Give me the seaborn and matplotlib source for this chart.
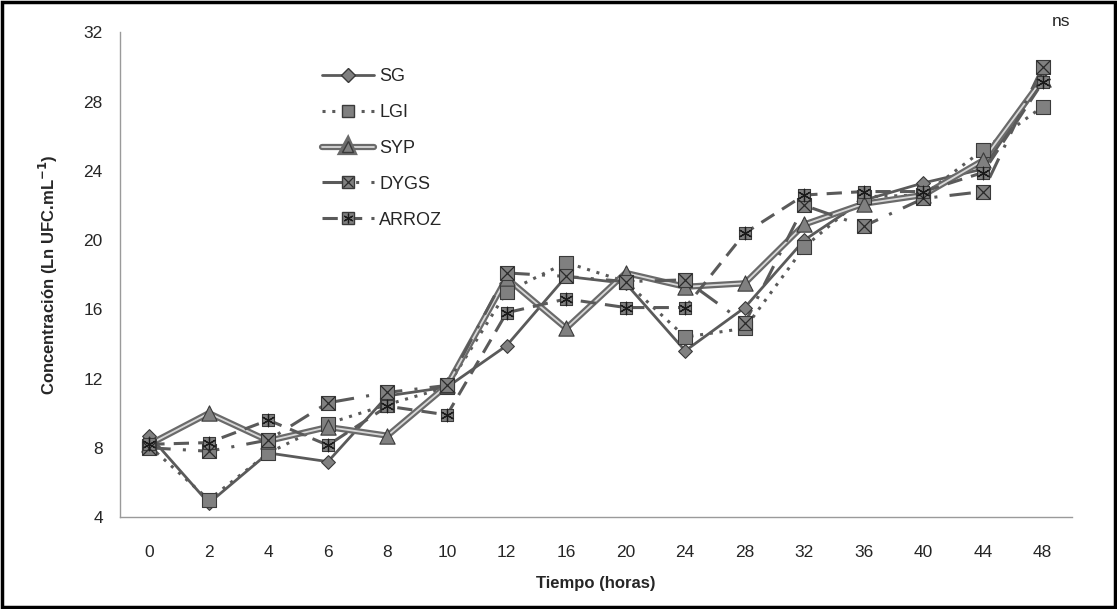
import matplotlib
matplotlib.use("Agg")
import matplotlib.pyplot as plt
import matplotlib.patheffects as pe
from matplotlib.lines import Line2D
from matplotlib.patches import Rectangle
import numpy as np
import pandas as pd
import seaborn as sns

# data
tiempo = ["0", "2", "4", "6", "8", "10", "12", "16", "20", "24", "28", "32", "36", "40", "44", "48"]
sg = [8.7, 4.8, 7.7, 7.2, 11.0, 11.5, 13.9, 17.9, 17.5, 13.6, 16.1, 20.0, 22.3, 23.3, 24.1, 29.3]
lgi = [8.1, 5.0, 7.7, 9.4, 10.5, 11.5, 17.0, 18.7, 17.6, 14.4, 14.9, 19.6, 22.5, 22.6, 25.2, 27.7]
syp = [8.2, 10.0, 8.4, 9.2, 8.7, 11.6, 17.8, 14.9, 18.1, 17.3, 17.5, 20.9, 22.1, 22.6, 24.6, 29.3]
dygs = [8.0, 7.8, 8.45, 10.6, 11.2, 11.6, 18.1, 17.9, 17.6, 17.7, 15.2, 22.0, 20.8, 22.4, 22.8, 30.0]
arroz = [8.2, 8.3, 9.6, 8.15, 10.4, 9.9, 15.8, 16.6, 16.1, 16.1, 20.4, 22.6, 22.8, 22.8, 23.9, 29.1]

series = {"SG": sg, "LGI": lgi, "SYP": syp, "DYGS": dygs, "ARROZ": arroz}

df = pd.concat(
    [pd.DataFrame({"pos": np.arange(len(tiempo)), "tiempo": tiempo, "valor": v, "serie": k})
     for k, v in series.items()],
    ignore_index=True,
)

sns.set_style("white")
plt.rcParams["font.family"] = ["Liberation Sans", "DejaVu Sans"]

line_c = "#5a5a5a"
fill_c = "#808080"
edge_c = "#3a3a3a"
syp_fx = [pe.Stroke(linewidth=4.5, foreground="#6a6a6a"), pe.Normal()]

fig = plt.figure(figsize=(11.17, 6.09), dpi=100)
ax = fig.add_axes([0.107, 0.151, 0.853, 0.796])

ast = (6, 2, 0)  # asterisk marker

styles = {
    "SG": dict(ls="-", lw=2.0, marker="D", ms=7),
    "LGI": dict(ls=(0, (1, 2.2)), lw=2.2, marker="s", ms=10),
    "SYP": dict(ls="-", lw=1.3, marker="^", ms=11),
    "DYGS": dict(ls=(0, (7, 4, 1, 4)), lw=2.2, marker="s", ms=10),
    "ARROZ": dict(ls=(0, (5, 3)), lw=2.2, marker="s", ms=9),
}

for name in series:
    sub = df[df["serie"] == name]
    st = styles[name]
    kw = {}
    color = line_c
    if name == "SYP":
        color = "#d8d8d8"
        kw["path_effects"] = syp_fx
    sns.lineplot(data=sub, x="pos", y="valor", ax=ax, color=color, linewidth=st["lw"],
                 linestyle=st["ls"], legend=False, zorder=2, **kw)
    sns.scatterplot(data=sub, x="pos", y="valor", ax=ax, marker=st["marker"], s=st["ms"] ** 2,
                    color=fill_c, edgecolor=edge_c, linewidth=0.8, legend=False, zorder=3)
    if name == "DYGS":
        sns.scatterplot(data=sub, x="pos", y="valor", ax=ax, marker="x", s=90,
                        color="#2a2a2a", linewidth=0.9, legend=False, zorder=4)
    if name == "ARROZ":
        sns.scatterplot(data=sub, x="pos", y="valor", ax=ax, marker=ast, s=80,
                        color="#1a1a1a", linewidth=0.9, edgecolor="#1a1a1a", legend=False, zorder=4)

ax.set_xlim(-0.5, len(tiempo) - 0.5)
ax.set_ylim(4, 32)
ax.set_yticks(range(4, 33, 4))
ax.set_xticks(np.arange(len(tiempo)))
ax.set_xticklabels(tiempo)
ax.set_xticks(np.arange(len(tiempo) + 1) - 0.5, minor=True)
ax.tick_params(axis="x", which="major", length=0, pad=20, labelsize=12.5)
ax.tick_params(axis="x", which="minor", length=6, color="#9a9a9a", direction="in", width=0.9)
ax.tick_params(axis="y", length=6, color="#9a9a9a", direction="out", width=0.9, labelsize=12.5, pad=6)

for s in ["top", "right"]:
    ax.spines[s].set_visible(False)
for s in ["left", "bottom"]:
    ax.spines[s].set_color("#9a9a9a")
    ax.spines[s].set_linewidth(1.0)

ax.set_xlabel("Tiempo (horas)", fontsize=12, fontweight="bold", labelpad=12)
ax.set_ylabel("Concentración (Ln UFC.mL$^{\\mathbf{-1}}$)", fontsize=12, fontweight="bold", labelpad=17)

ax.text(15.15, 32.2, "ns", fontsize=12.5, ha="left", va="bottom")

handles = [
    Line2D([], [], color=line_c, lw=2.0, marker="D", ms=7, mfc=fill_c, mec=edge_c),
    Line2D([], [], color=line_c, lw=2.2, ls=(0, (1, 2.2)), marker="s", ms=8, mfc=fill_c, mec=edge_c),
    Line2D([], [], color="#d8d8d8", lw=1.3, marker="^", ms=8, mfc=fill_c, mec=edge_c,
           path_effects=syp_fx),
    (Line2D([], [], color=line_c, lw=2.2, ls=(0, (7, 4, 1, 4)), marker="s", ms=8, mfc=fill_c, mec=edge_c),
     Line2D([], [], ls="none", marker="x", ms=7, color="#2a2a2a", mew=0.9)),
    (Line2D([], [], color=line_c, lw=2.2, ls=(0, (5, 3)), marker="s", ms=8, mfc=fill_c, mec=edge_c),
     Line2D([], [], ls="none", marker=ast, ms=7, color="#1a1a1a", mew=0.9)),
]
ax.legend(handles, list(series.keys()), loc="upper left", bbox_to_anchor=(0.195, 0.96),
          frameon=False, fontsize=13, handlelength=2.9, labelspacing=1.05, handletextpad=0.3)

fig.add_artist(Rectangle((0.002, 0.003), 0.996, 0.994, transform=fig.transFigure,
                         fill=False, edgecolor="black", linewidth=2.5))

fig.savefig("out.png", dpi=100)
